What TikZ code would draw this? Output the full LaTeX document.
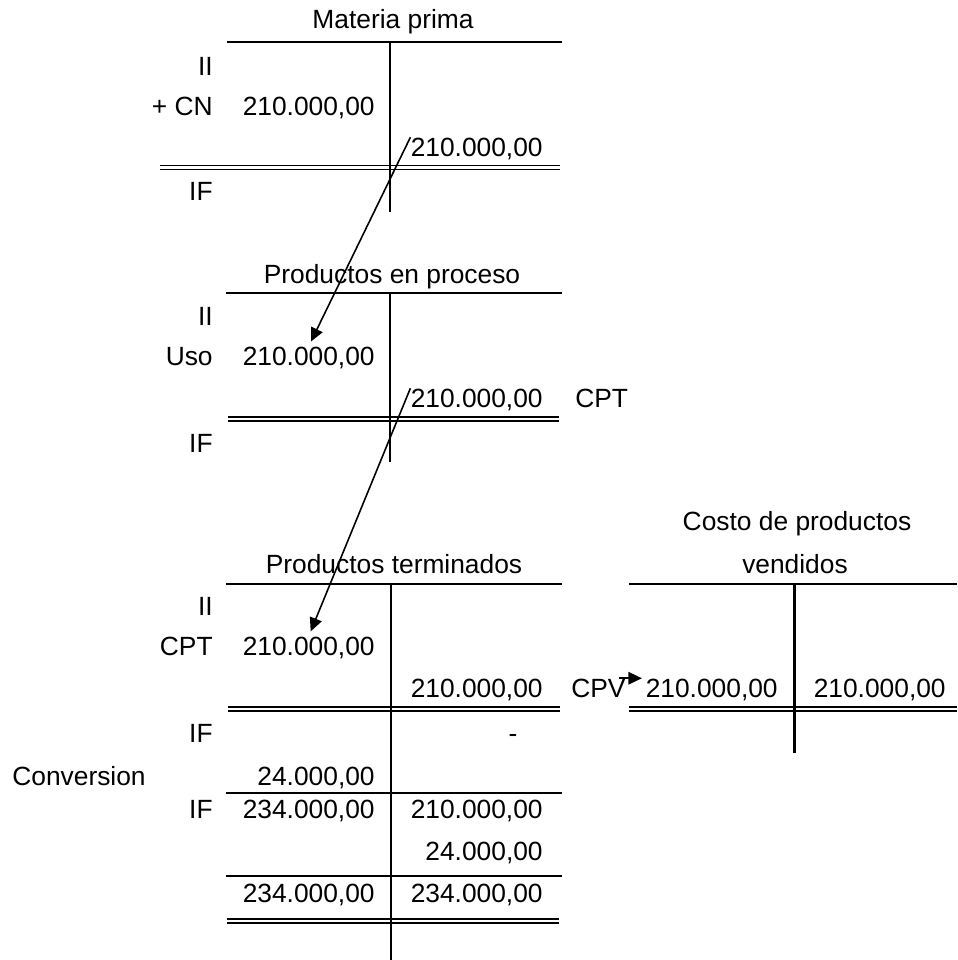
\documentclass[tikz,border=0pt]{standalone}
\usepackage{fontspec}
\setmainfont{Liberation Sans}
\usetikzlibrary{arrows.meta}

\begin{document}
\begin{tikzpicture}[
  x=0.02cm, y=-0.02cm,
  font=\fontsize{15}{18}\selectfont,
  lbl/.style={anchor=base east, inner sep=0pt},
  amt/.style={anchor=base east, inner sep=0pt},
  ttl/.style={anchor=base, inner sep=0pt},
  tline/.style={line width=1.3pt},
  stem/.style={line width=1.7pt},
  dbl/.style={line width=1pt},
  flow/.style={line width=0.9pt, -{Triangle[length=2.7mm,width=2.5mm]}},
]
\useasboundingbox (0,0) rectangle (957,960);

% column x positions
\def\xL{213} % row labels (right edge)
\def\xD{375} % debit amounts (right edge)
\def\xC{543} % credit amounts (right edge)

% ---- Materia prima ----
\node[ttl] (mpT) at (393,29) {Materia prima};
\draw[tline] (227,42) -- (562,42);
\draw[stem] (390,42) -- (390,212);
\node[lbl] (mpII) at (\xL,75) {II};
\node[lbl] (mpCN) at (\xL,115) {+ CN};
\node[amt] (mpD) at (\xD,115) {210.000,00};
\node[amt] (mpC) at (\xC,156) {210.000,00};
\draw[dbl] (160,165.5) -- (560,165.5);
\draw[dbl] (160,169.5) -- (560,169.5);
\node[lbl] (mpIF) at (\xL,200) {IF};

% ---- Productos en proceso ----
\node[ttl] (pepT) at (392,283) {Productos en proceso};
\draw[tline] (226,293) -- (562,293);
\draw[stem] (390,293) -- (390,462);
\node[lbl] (pepII) at (\xL,325) {II};
\node[lbl] (pepUso) at (\xL,365) {Uso};
\node[amt] (pepD) at (\xD,365) {210.000,00};
\node[amt] (pepC) at (\xC,407) {210.000,00};
\node[anchor=base west, inner sep=0pt] (pepCPT) at (575,407) {CPT};
\draw[dbl] (228,417) -- (559,417);
\draw[dbl] (228,421) -- (559,421);
\node[lbl] (pepIF) at (\xL,452) {IF};

% ---- Productos terminados ----
\node[ttl] (ptT) at (394,573) {Productos terminados};
\draw[tline] (226,584) -- (562,584);
\draw[stem] (391,584) -- (391,960);
\node[lbl] (ptII) at (\xL,615) {II};
\node[lbl] (ptCPT) at (\xL,655) {CPT};
\node[amt] (ptD) at (\xD,655) {210.000,00};
\node[amt] (ptC) at (\xC,697) {210.000,00};
\node[anchor=base west, inner sep=0pt] (ptCPV) at (571,697) {CPV};
\draw[dbl] (228,707) -- (560,707);
\draw[dbl] (228,711) -- (560,711);
\node[lbl] (ptIF) at (\xL,742) {IF};
\node[ttl] (ptNil) at (513,742) {-};
\node[anchor=base west, inner sep=0pt] (ptConv) at (12,785) {Conversion};
\node[amt] (ptConvD) at (\xD,785) {24.000,00};
\draw[tline] (226,793) -- (562,793);
\node[lbl] (ptIF2) at (\xL,818) {IF};
\node[amt] (ptIFD) at (\xD,818) {234.000,00};
\node[amt] (ptIFC) at (\xC,818) {210.000,00};
\node[amt] (ptConvC) at (\xC,860) {24.000,00};
\draw[tline] (226,876) -- (562,876);
\node[amt] (ptSumD) at (\xD,902) {234.000,00};
\node[amt] (ptSumC) at (\xC,902) {234.000,00};
\draw[dbl] (227,919) -- (559,919);
\draw[dbl] (227,923) -- (559,923);

% ---- Costo de productos vendidos ----
\node[ttl] (cpvT1) at (797,530) {Costo de productos};
\node[ttl] (cpvT2) at (795,573) {vendidos};
\draw[tline] (629,584) -- (957,584);
\draw[stem] (794,584) -- (794,753);
\node[amt] (cpvD) at (778,697) {210.000,00};
\node[amt] (cpvC) at (946,697) {210.000,00};
\draw[dbl] (629,707) -- (957,707);
\draw[dbl] (629,711) -- (957,711);

% ---- transfers ----
\draw[flow, shorten >=3pt] (mpC.north west) -- (pepD.north);
\draw[flow, shorten >=3pt] (pepC.north west) -- (ptD.north);
\draw[flow, shorten <=-4pt, shorten >=2pt] (ptCPV.north east) -- (cpvD.north west);

\end{tikzpicture}
\end{document}
